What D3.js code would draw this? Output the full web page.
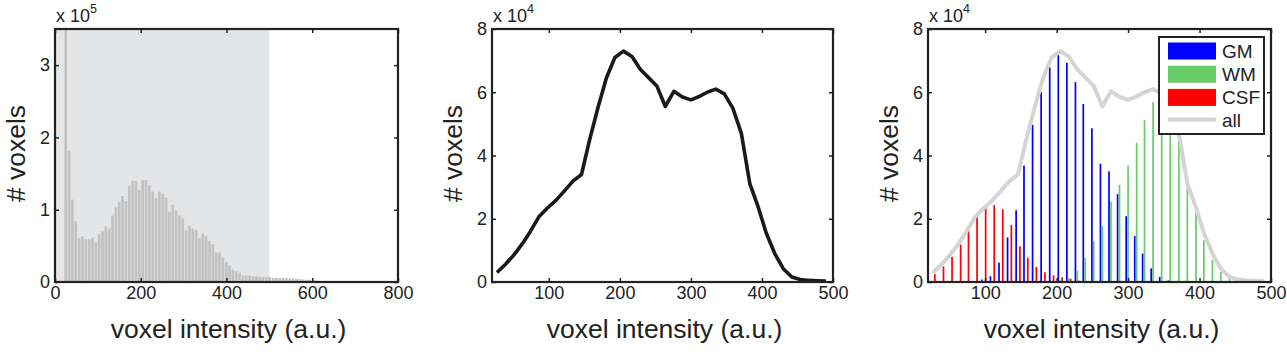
<!DOCTYPE html>
<html>
<head>
<meta charset="utf-8">
<script src="https://cdn.jsdelivr.net/npm/d3@7"></script>
<style>
    body { margin: 0; background: #fff; }
    svg { display: block; font-family: "Liberation Sans", Arial, Helvetica, sans-serif; }
    .axis text { font-size: 18px; fill: #222; }
    .axis line { stroke: #222; stroke-width: 1.5; }
    .axis path { display: none; }
    .label { font-size: 26.5px; fill: #222; }
    .expo { font-size: 18px; fill: #222; }
</style>
</head>
<body>
<div id="chart"></div>
<script>
// panel 1: histogram of all voxel intensities (counts in units of 1e5)
const histCenters = [25, 32.8, 40.6, 48.4, 56.2, 64, 71.8, 79.6, 87.4, 95.2, 103, 110.8, 118.6, 126.4, 134.2,
    142, 149.8, 157.6, 165.4, 173.2, 181, 188.8, 196.6, 204.4, 212.2, 220, 227.8, 235.6, 243.4, 251.2, 259,
    266.8, 274.6, 282.4, 290.2, 298, 305.8, 313.6, 321.4, 329.2, 337, 344.8, 352.6, 360.4, 368.2, 376, 383.8,
    391.6, 399.4, 407.2, 415, 422.8, 430.6, 438.4, 446.2, 454, 461.8, 469.6, 477.4, 485.2, 493, 500.8, 508.6,
    516.4, 524.2, 532, 539.8, 547.6, 555.4, 563.2, 571, 578.8, 586.6, 594.4, 602.2, 610, 617.8];
const histCounts = [5.0, 1.81, 1.14, 0.84, 0.61, 0.63, 0.59, 0.59, 0.61, 0.55, 0.66, 0.70, 0.77, 0.74, 0.92,
    1.04, 1.11, 1.19, 1.12, 1.33, 1.40, 1.40, 1.27, 1.41, 1.41, 1.34, 1.25, 1.16, 1.25, 1.22, 1.17,
    0.97, 1.07, 0.99, 0.92, 0.88, 0.71, 0.78, 0.74, 0.72, 0.61, 0.67, 0.64, 0.57, 0.52, 0.41, 0.41,
    0.34, 0.28, 0.23, 0.17, 0.15, 0.13, 0.09, 0.09, 0.09, 0.08, 0.08, 0.07, 0.07, 0.07, 0.065, 0.06,
    0.06, 0.055, 0.06, 0.055, 0.05, 0.05, 0.045, 0.04, 0.035, 0.03, 0.03, 0.025, 0.02, 0.015];
const maskRange = [0, 500]; // shaded intensity window

// panels 2 and 3: histogram inside the mask (counts in units of 1e4)
const binCenters = [27, 39, 51, 63, 74, 86, 98, 110, 122, 134, 146, 157, 169, 181, 193, 205, 217, 229, 240, 252,
    264, 276, 288, 300, 312, 323, 335, 347, 359, 371, 383, 395, 406, 418, 430, 442, 454, 466, 478, 490];
const allVoxels = [0.3, 0.56, 0.86, 1.22, 1.6, 2.06, 2.34, 2.58, 2.88, 3.19, 3.4, 4.46, 5.5, 6.45, 7.1, 7.3, 7.13,
    6.72, 6.47, 6.2, 5.55, 6.03, 5.85, 5.76, 5.87, 6.0, 6.1, 5.95, 5.5, 4.7, 3.1, 2.35, 1.55, 0.9, 0.42, 0.16,
    0.08, 0.05, 0.04, 0.03];
const gmCounts = [0, 0, 0, 0, 0, 0, 0.08, 0.18, 0.61, 1.41, 2.27, 3.68, 4.97, 6.0, 6.79, 7.17, 6.93, 6.32, 5.63,
    4.86, 3.74, 3.5, 2.78, 2.08, 1.45, 0.9, 0.43, 0.16, 0.05, 0, 0, 0, 0, 0, 0, 0, 0, 0, 0, 0];
const wmCounts = [0, 0, 0, 0, 0, 0, 0, 0, 0, 0, 0, 0, 0, 0, 0, 0.05, 0.12, 0.35, 0.76, 1.3, 1.77, 2.54, 3.07,
    3.68, 4.4, 5.12, 5.69, 5.8, 5.45, 4.65, 3.0, 2.17, 1.32, 0.69, 0.32, 0.11, 0.03, 0, 0, 0];
const csfCounts = [0.25, 0.49, 0.79, 1.18, 1.66, 2.07, 2.36, 2.43, 2.30, 1.80, 1.13, 0.77, 0.48, 0.31, 0.21,
    0.15, 0.10, 0.04, 0, 0, 0, 0, 0, 0, 0, 0, 0, 0, 0, 0, 0, 0, 0, 0, 0, 0, 0, 0, 0, 0];
const tissueNames = ['GM', 'WM', 'CSF'];
const tissueColors = ['#0000ff', '#66cc66', '#ff0000'];

const W = 1287, H = 352;
const plotTop = 29, plotBottom = 282;

const svg = d3.select('#chart').append('svg').attr('width', W).attr('height', H);

// draws frame, ticks on all four sides, labels and the exponent note
function frame(g, x, y, xTicks, yTicks, expo) {
    const [x0, x1] = x.range();
    g.append('g').attr('class', 'axis').attr('transform', `translate(0, ${plotBottom})`)
        .call(d3.axisBottom(x).tickValues(xTicks).tickSize(-4).tickPadding(4).tickFormat(d3.format('d')));
    g.append('g').attr('class', 'axis').attr('transform', `translate(0, ${plotTop})`)
        .call(d3.axisTop(x).tickValues(xTicks).tickSize(-4).tickFormat(''));
    g.append('g').attr('class', 'axis').attr('transform', `translate(${x0}, 0)`)
        .call(d3.axisLeft(y).tickValues(yTicks).tickSize(-4).tickPadding(5).tickFormat(d3.format('d')));
    g.append('g').attr('class', 'axis').attr('transform', `translate(${x1}, 0)`)
        .call(d3.axisRight(y).tickValues(yTicks).tickSize(-4).tickFormat(''));
    g.append('rect')
        .attr('x', x0).attr('y', plotTop).attr('width', x1 - x0).attr('height', plotBottom - plotTop)
        .attr('fill', 'none').attr('stroke', '#222').attr('stroke-width', 2.2);

    g.append('text').attr('class', 'label')
        .attr('text-anchor', 'middle')
        .attr('x', (x0 + x1) / 2 + 2).attr('y', 338)
        .text('voxel intensity (a.u.)');
    g.append('text').attr('class', 'label')
        .attr('text-anchor', 'middle')
        .attr('transform', `translate(${x0 - 30}, ${(plotTop + plotBottom) / 2 - 2}) rotate(-90)`)
        .text('# voxels');

    const e = g.append('text').attr('class', 'expo').attr('x', x0 + 1).attr('y', 22);
    e.append('tspan').text('x 10');
    e.append('tspan').attr('dy', -9).style('font-size', '12.5px').text(expo);
}

function histPanel() {
    const g = svg.append('g');
    const x = d3.scaleLinear().domain([0, 800]).range([55, 398]);
    const y = d3.scaleLinear().domain([0, 3.5]).range([plotBottom, plotTop]);

    g.append('clipPath').attr('id', 'clip1')
        .append('rect').attr('x', 55).attr('y', plotTop).attr('width', 343).attr('height', plotBottom - plotTop);
    const plot = g.append('g').attr('clip-path', 'url(#clip1)');

    plot.append('rect')
        .attr('x', x(maskRange[0])).attr('y', plotTop)
        .attr('width', x(maskRange[1]) - x(maskRange[0])).attr('height', plotBottom - plotTop)
        .attr('fill', '#e4e5e7');

    const bw = (x(histCenters[1]) - x(histCenters[0])) * 0.8;
    plot.selectAll('.hbar')
        .data(histCounts)
        .join('rect')
        .attr('class', 'hbar')
        .attr('x', (d, i) => x(histCenters[i]) - bw / 2)
        .attr('y', d => y(d))
        .attr('width', bw)
        .attr('height', d => plotBottom - y(d))
        .attr('fill', '#c2c2c2');

    frame(g, x, y, [0, 200, 400, 600, 800], [0, 1, 2, 3], '5');
}

function linePanel() {
    const g = svg.append('g');
    const x = d3.scaleLinear().domain([20, 500]).range([492, 833]);
    const y = d3.scaleLinear().domain([0, 8]).range([plotBottom, plotTop]);

    const line = d3.line().x((d, i) => x(binCenters[i])).y(d => y(d));
    g.append('path')
        .datum(allVoxels)
        .attr('d', line)
        .attr('fill', 'none')
        .attr('stroke', '#1a1a1a')
        .attr('stroke-width', 3.6)
        .attr('stroke-linejoin', 'round');

    frame(g, x, y, [100, 200, 300, 400, 500], [0, 2, 4, 6, 8], '4');
}

function tissuePanel() {
    const g = svg.append('g');
    const x = d3.scaleLinear().domain([20, 500]).range([928, 1271]);
    const y = d3.scaleLinear().domain([0, 8]).range([plotBottom, plotTop]);

    // grouped bars: GM left, WM centre, CSF right
    const step = x(binCenters[1]) - x(binCenters[0]);
    const sub = step * 0.222;
    const bw = 1.7;
    [gmCounts, wmCounts, csfCounts].forEach(function(series, k) {
        g.selectAll('.tbar' + k)
            .data(series.map((v, i) => ({v: v, c: binCenters[i]})).filter(d => d.v > 0))
            .join('rect')
            .attr('class', 'tbar' + k)
            .attr('x', d => x(d.c) + (k - 1) * sub - bw / 2)
            .attr('y', d => y(d.v))
            .attr('width', bw)
            .attr('height', d => plotBottom - y(d.v))
            .attr('fill', tissueColors[k]);
    });

    const line = d3.line().x((d, i) => x(binCenters[i])).y(d => y(d));
    g.append('path')
        .datum(allVoxels)
        .attr('d', line)
        .attr('fill', 'none')
        .attr('stroke', '#d4d4d4')
        .attr('stroke-width', 4)
        .attr('stroke-linejoin', 'round');

    frame(g, x, y, [100, 200, 300, 400, 500], [0, 2, 4, 6, 8], '4');

    // legend
    const lg = g.append('g').attr('transform', 'translate(1159, 37)');
    lg.append('rect').attr('width', 105).attr('height', 97)
        .attr('fill', '#fff').attr('stroke', '#222').attr('stroke-width', 2);
    tissueNames.forEach(function(name, k) {
        lg.append('rect')
            .attr('x', 9).attr('y', 5.5 + k * 23.2).attr('width', 48).attr('height', 17)
            .attr('fill', tissueColors[k]);
        lg.append('text')
            .attr('x', 63).attr('y', 20.5 + k * 23.2)
            .style('font-size', '19px').attr('fill', '#222')
            .text(name);
    });
    lg.append('line')
        .attr('x1', 9).attr('x2', 57).attr('y1', 82.5).attr('y2', 82.5)
        .attr('stroke', '#d4d4d4').attr('stroke-width', 4);
    lg.append('text')
        .attr('x', 63).attr('y', 89.5)
        .style('font-size', '19px').attr('fill', '#222')
        .text('all');
}

function main() {
    histPanel();
    linePanel();
    tissuePanel();
}

main();
</script>
</body>
</html>
